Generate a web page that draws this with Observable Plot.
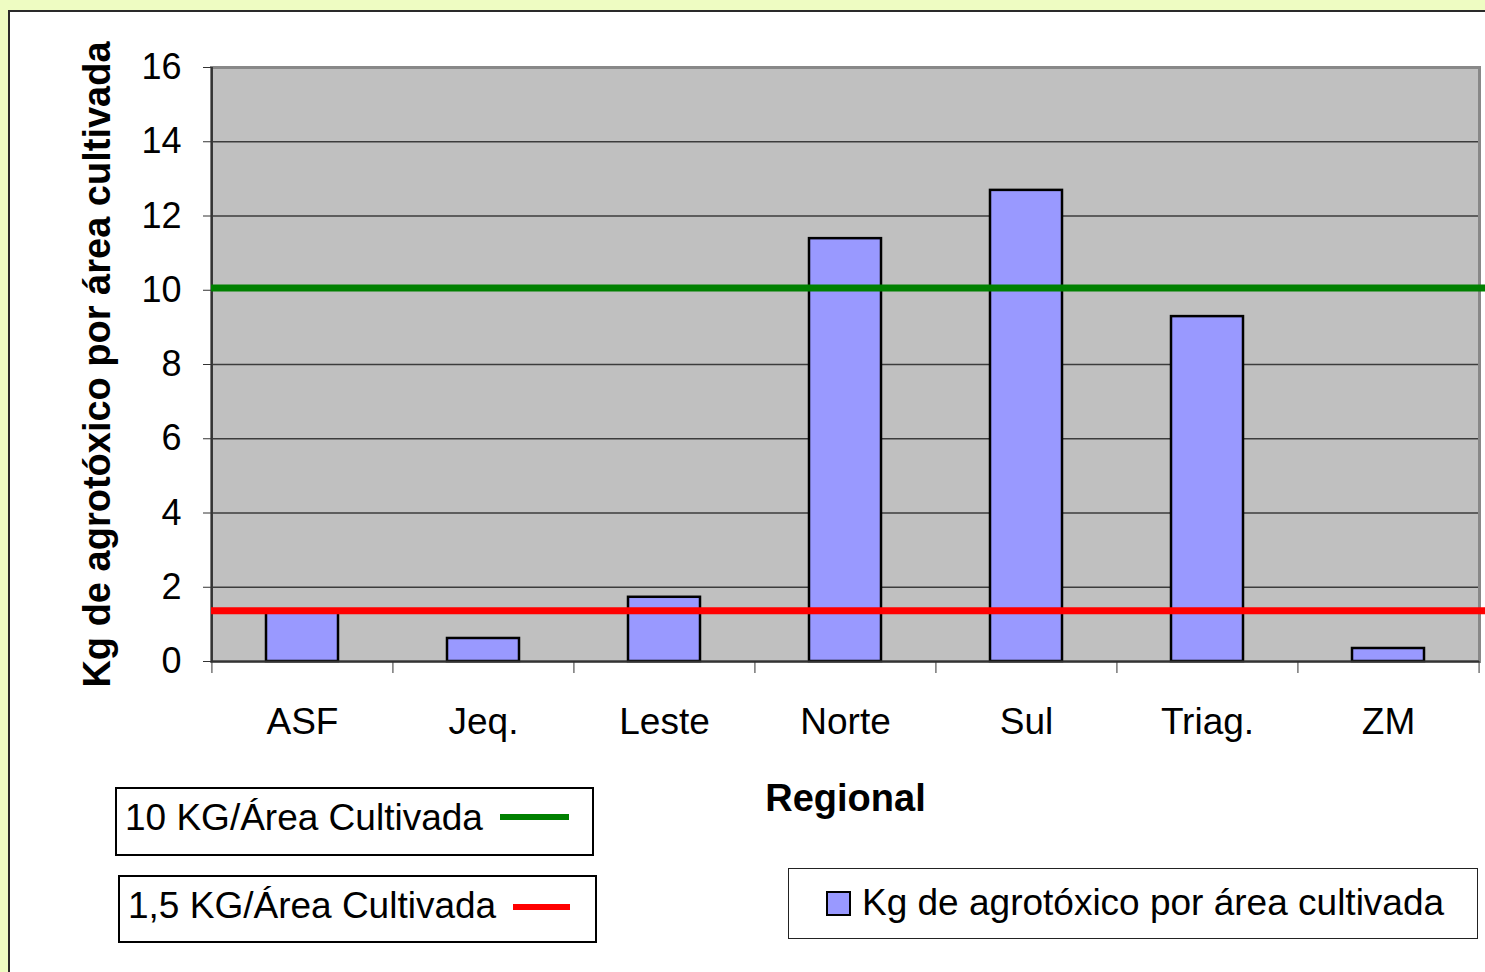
<!DOCTYPE html>
<html>
<head>
<meta charset="utf-8">
<script src="https://cdn.jsdelivr.net/npm/d3@7"></script>
<script src="https://cdn.jsdelivr.net/npm/@observablehq/plot@0.6"></script>
<style>
  html, body { margin: 0; padding: 0; }
  body { width: 1485px; height: 972px; background: #eefcc2; position: relative; overflow: hidden;
         font-family: "Liberation Sans", Arial, sans-serif; }
  #panel { position: absolute; left: 8px; top: 10px; width: 1500px; height: 1000px; background: #fff;
           border-left: 2px solid #2a2a2a; border-top: 2px solid #2a2a2a; }
  #chart { position: absolute; left: 0; top: 0; }
  .lg { position: absolute; border: 2px solid #000; background: #fff; box-sizing: border-box; color: #000; }
  .lg span.t { position: absolute; white-space: nowrap; font-size: 37px; line-height: 37px; }
  .lg span.sw { position: absolute; }
</style>
</head>
<body>
<div id="panel"></div>
<div id="chart"></div>
<div class="lg" style="left:115px; top:787px; width:479px; height:69px;">
  <span class="t" style="left:8px; top:10px;">10 KG/Área Cultivada</span>
  <span class="sw" style="left:383px; top:25px; width:69px; height:6px; background:#008000;"></span>
</div>
<div class="lg" style="left:118px; top:875px; width:479px; height:68px;">
  <span class="t" style="left:8px; top:10px;">1,5 KG/Área Cultivada</span>
  <span class="sw" style="left:393px; top:27px; width:57px; height:6px; background:#ff0000;"></span>
</div>
<div class="lg" style="left:788px; top:868px; width:690px; height:71px; border:1.5px solid #222;">
  <span class="sw" style="left:37px; top:22px; width:21px; height:21px; background:#9999ff; border:2px solid #000;"></span>
  <span class="t" style="left:73px; top:15px;">Kg de agrotóxico por área cultivada</span>
</div>
<script>
const categories = ["ASF", "Jeq.", "Leste", "Norte", "Sul", "Triag.", "ZM"];
const values = [1.36, 0.62, 1.73, 11.39, 12.69, 9.29, 0.35];
const yTicks = [0, 2, 4, 6, 8, 10, 12, 14, 16];
const refLines = [
  {label: "10 KG/Área Cultivada", value: 10.06, color: "#008000"},
  {label: "1,5 KG/Área Cultivada", value: 1.37, color: "#ff0000"}
];
const yTitle = "Kg de agrotóxico por área cultivada";
const xTitle = "Regional";

const data = categories.map((c, i) => ({regional: c, value: values[i]}));

const W = 1485, H = 830, mL = 211, mR = 6, mT = 67, mB = 169;
const step = (W - mL - mR) / categories.length;

const chart = Plot.plot({
  width: W,
  height: H,
  marginLeft: mL,
  marginRight: mR,
  marginTop: mT,
  marginBottom: mB,
  style: {background: "transparent", fontFamily: "'Liberation Sans', Arial, sans-serif", color: "#000"},
  x: {domain: categories, paddingInner: 0.6, paddingOuter: 0.3, axis: null},
  y: {domain: [0, 16], axis: null},
  marks: [
    Plot.frame({fill: "#c0c0c0", stroke: null}),
    Plot.gridY(yTicks, {stroke: "#3c3c3c", strokeOpacity: 1, strokeWidth: 1.3}),
    Plot.frame({stroke: "#888", strokeWidth: 3, fill: "none"}),
    Plot.barY(data, {x: "regional", y: "value", fill: "#9999ff", stroke: "#000", strokeWidth: 2.5}),
    Plot.ruleY([0], {stroke: "#333", strokeWidth: 2}),
    Plot.ruleX([categories[0]], {dx: -step / 2, stroke: "#333", strokeWidth: 2}),
    Plot.ruleY(refLines, {y: "value", stroke: "color", strokeWidth: 7, insetRight: -mR}),
    Plot.axisY(yTicks, {tickSize: 8, tickPadding: 22, fontSize: 36, stroke: "#333", label: null}),
    Plot.axisX({tickSize: 12, tickFormat: () => "", dx: -step / 2, stroke: "#333", label: null}),
    Plot.axisX([categories[categories.length - 1]], {tickSize: 12, tickFormat: () => "", dx: step / 2, stroke: "#333", label: null}),
    Plot.axisX({tickSize: 0, tickPadding: 46, fontSize: 37, label: null}),
    Plot.text([xTitle], {frameAnchor: "bottom", lineAnchor: "middle", dy: 137, text: d => d, fontSize: 38, fontWeight: "bold"}),
    Plot.text([yTitle], {frameAnchor: "left", textAnchor: "middle", lineAnchor: "middle", dx: -114, rotate: -90, text: d => d, fontSize: 38, fontWeight: "bold"})
  ]
});
document.getElementById("chart").appendChild(chart);
</script>
</body>
</html>
